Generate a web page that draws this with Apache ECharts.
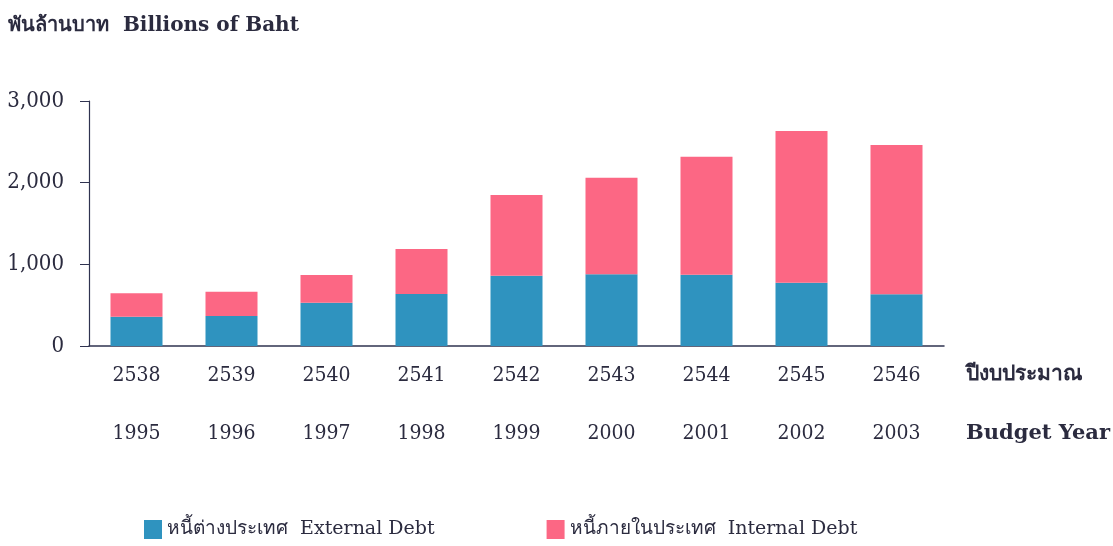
<!DOCTYPE html>
<html>
<head>
<meta charset="utf-8">
<script src="https://cdn.jsdelivr.net/npm/echarts@6/dist/echarts.min.js"></script>
<style>html,body{margin:0;padding:0;background:#fff;}#c{width:1113px;height:546px;}</style>
</head>
<body>
<div id="c"></div>
<script>
const yearsBE = ['2538','2539','2540','2541','2542','2543','2544','2545','2546'];
const yearsAD = ['1995','1996','1997','1998','1999','2000','2001','2002','2003'];
const externalDebt = [359, 367, 530, 637, 861, 878, 872, 775, 633];
const internalDebt = [286, 298, 339, 551, 988, 1183, 1446, 1858, 1828];
const yTicks = [0, 1000, 2000, 3000];

const serif = '"DejaVu Serif", "Liberation Serif", "Noto Sans", serif';
const narrow = '"DejaVu Serif Condensed", "Liberation Serif", serif';
const textColor = '#2b2b3f';
const blue = '#2f93bf';
const pink = '#fc6784';

const chart = echarts.init(document.getElementById('c'));
chart.setOption({
  animation: false,
  backgroundColor: '#ffffff',
  grid: { left: 89, top: 101, right: 169, bottom: 200, containLabel: false },
  xAxis: {
    type: 'category',
    data: yearsBE.map((b, i) => b + '\n' + yearsAD[i]),
    axisLine: { show: true, lineStyle: { color: '#2f3350', width: 1.5 } },
    axisTick: { show: false },
    axisLabel: {
      interval: 0,
      margin: 1,
      color: textColor,
      fontFamily: narrow,
      fontSize: 21,
      lineHeight: 58
    }
  },
  yAxis: {
    type: 'value',
    min: 0, max: 3000, interval: 1000,
    splitLine: { show: false },
    axisLine: { show: true, lineStyle: { color: '#2f3350', width: 1.2 } },
    axisTick: { show: true, length: 9, lineStyle: { color: '#2f3350' } },
    axisLabel: {
      margin: 25,
      color: textColor,
      fontFamily: narrow,
      fontSize: 22,
      formatter: v => yTicks.includes(v) ? v.toLocaleString('en-US') : ''
    }
  },
  legend: {
    left: 139, top: 515,
    itemWidth: 18, itemHeight: 19, itemGap: 112,
    icon: 'rect',
    textStyle: { fontFamily: serif, fontSize: 19, color: textColor },
    data: ['หนี้ต่างประเทศ  External Debt', 'หนี้ภายในประเทศ  Internal Debt']
  },
  graphic: [
    { type: 'text', left: 8, top: 16, style: { text: 'พันล้านบาท  Billions of Baht', font: 'bold 20px ' + serif, fill: textColor } },
    { type: 'text', left: 966, top: 364, style: { text: 'ปีงบประมาณ', font: 'bold 21px ' + serif, fill: textColor } },
    { type: 'text', left: 966, top: 423, style: { text: 'Budget Year', font: 'bold 21px ' + serif, fill: textColor } }
  ],
  series: [
    {
      name: 'หนี้ต่างประเทศ  External Debt', type: 'bar', stack: 'debt',
      data: externalDebt, barWidth: 52, itemStyle: { color: blue }
    },
    {
      name: 'หนี้ภายในประเทศ  Internal Debt', type: 'bar', stack: 'debt',
      data: internalDebt, barWidth: 52, itemStyle: { color: pink }
    }
  ]
});
</script>
</body>
</html>
